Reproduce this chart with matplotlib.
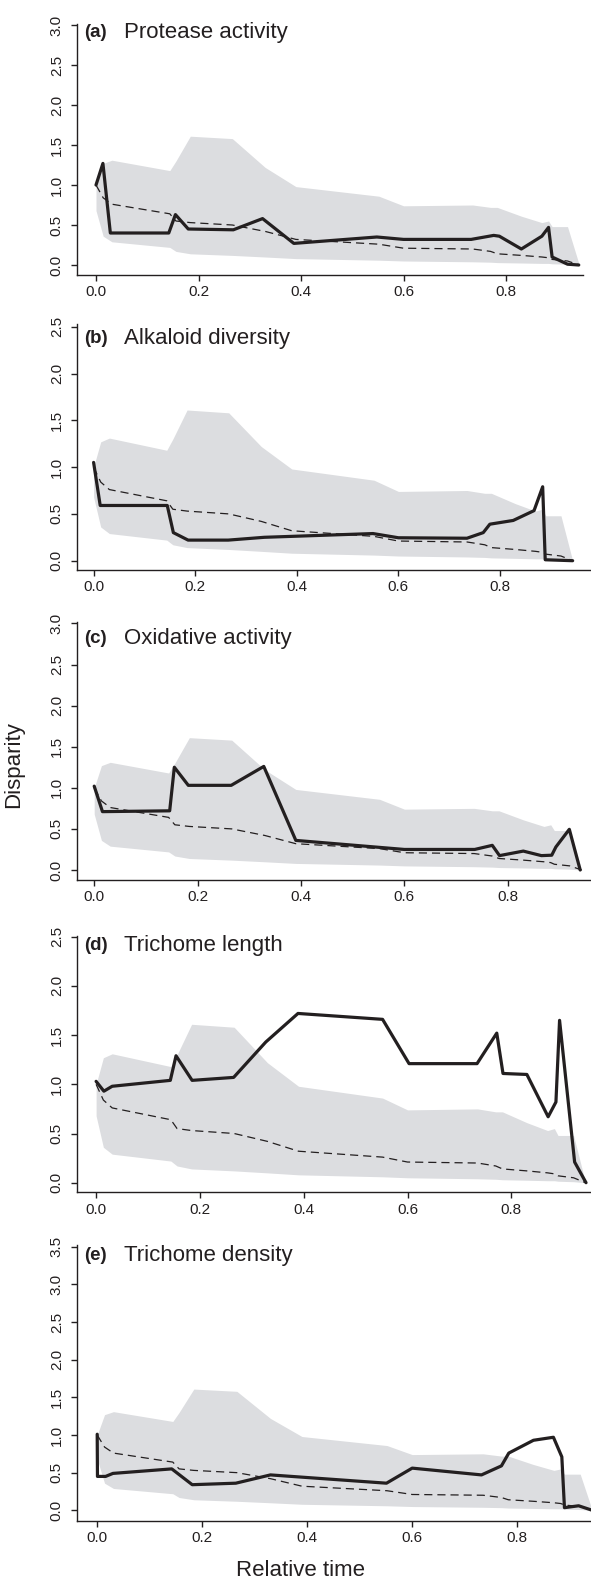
import numpy as np
import matplotlib
matplotlib.use('Agg')
import matplotlib.pyplot as plt

plt.rcParams['font.family'] = ['Liberation Sans', 'DejaVu Sans']

# null envelope + null mean (same tree for every trait)
t_null = [0, 0.014, 0.031, 0.144, 0.156, 0.184, 0.266, 0.33, 0.39, 0.552,
          0.6, 0.735, 0.77, 0.783, 0.83, 0.87, 0.883, 0.89, 0.92, 0.943]
null_upper = [1.0, 1.27, 1.31, 1.18, 1.30, 1.61, 1.58, 1.22, 0.98, 0.86,
              0.74, 0.75, 0.72, 0.72, 0.61, 0.53, 0.55, 0.48, 0.48, 0.0]
null_lower = [0.68, 0.36, 0.29, 0.22, 0.17, 0.14, 0.12, 0.10, 0.08, 0.06,
              0.05, 0.04, 0.035, 0.03, 0.025, 0.02, 0.02, 0.015, 0.01, 0.0]
null_mean = [1.0, 0.84, 0.76, 0.64, 0.55, 0.53, 0.50, 0.42, 0.32, 0.26,
             0.21, 0.20, 0.17, 0.14, 0.12, 0.10, 0.09, 0.07, 0.05, 0.0]

# observed disparity through time
a_x = [0, 0.0135, 0.028, 0.142, 0.155, 0.18, 0.268, 0.325, 0.386, 0.548,
       0.6, 0.732, 0.776, 0.787, 0.83, 0.87, 0.883, 0.89, 0.92, 0.942]
a_y = [1.0, 1.27, 0.40, 0.40, 0.63, 0.45, 0.44, 0.58, 0.27, 0.35,
       0.32, 0.32, 0.37, 0.36, 0.20, 0.36, 0.47, 0.10, 0.01, 0.0]

b_x = [0, 0.013, 0.145, 0.157, 0.186, 0.265, 0.336, 0.39, 0.55, 0.6,
       0.735, 0.767, 0.78, 0.826, 0.867, 0.884, 0.889, 0.943]
b_y = [1.05, 0.59, 0.59, 0.30, 0.22, 0.22, 0.25, 0.26, 0.29, 0.245,
       0.24, 0.30, 0.39, 0.43, 0.535, 0.79, 0.01, 0.0]

c_x = [0, 0.016, 0.146, 0.155, 0.182, 0.265, 0.328, 0.39, 0.6, 0.736,
       0.77, 0.784, 0.83, 0.865, 0.885, 0.893, 0.919, 0.94]
c_y = [1.02, 0.71, 0.72, 1.25, 1.03, 1.03, 1.26, 0.36, 0.25, 0.25,
       0.30, 0.175, 0.23, 0.175, 0.18, 0.28, 0.495, 0.0]

d_x = [0, 0.015, 0.031, 0.143, 0.154, 0.185, 0.265, 0.327, 0.389, 0.552,
       0.603, 0.734, 0.772, 0.784, 0.83, 0.871, 0.886, 0.893, 0.922, 0.944]
d_y = [1.03, 0.93, 0.98, 1.04, 1.29, 1.04, 1.07, 1.43, 1.72, 1.66,
       1.21, 1.21, 1.52, 1.11, 1.10, 0.67, 0.82, 1.65, 0.21, 0.0]

e_x = [0, 0.0005, 0.016, 0.03, 0.142, 0.181, 0.264, 0.33, 0.551, 0.6,
       0.732, 0.77, 0.784, 0.831, 0.869, 0.885, 0.89, 0.917, 0.943]
e_y = [1.01, 0.45, 0.45, 0.49, 0.55, 0.34, 0.36, 0.47, 0.36, 0.56,
       0.47, 0.59, 0.76, 0.93, 0.97, 0.71, 0.035, 0.06, 0.0]

letters = ['(a)', '(b)', '(c)', '(d)', '(e)']
names = ['Protease activity', 'Alkaloid diversity', 'Oxidative activity',
         'Trichome length', 'Trichome density']
ymax_tick = [3.0, 2.5, 3.0, 2.5, 3.5]

# panel geometry in pixels (figure is 591 x 1581)
W, H = 591.0, 1581.0
# top, bottom, right, zero-y pixel, px per unit y, zero-x pixel, px per unit x
geo = [
    (24, 275, 583, 265.0, 80.0, 96.0, 512.5),
    (324, 570, 591, 560.7, 93.6, 93.6, 508.0),
    (622, 880, 591, 870.0, 82.2, 94.2, 517.0),
    (936, 1192.3, 591, 1182.7, 98.4, 96.1, 519.0),
    (1245, 1520.7, 591, 1510.3, 75.3, 97.2, 525.0),
]
title_y = [32.3, 338.3, 638.3, 945, 1255]
left_px = 77.0

series = [(a_x, a_y), (b_x, b_y), (c_x, c_y), (d_x, d_y), (e_x, e_y)]
ink = '#231f20'

fig = plt.figure(figsize=(W / 100, H / 100), dpi=100)

for i in range(5):
    top, bot, right, y0, ky, x0, kx = geo[i]
    ax = fig.add_axes([left_px / W, 1 - bot / H, (right - left_px) / W, (bot - top) / H])
    ax.fill_between(t_null, null_lower, null_upper, color='#dcdde0', lw=0, zorder=1)
    ax.plot(t_null, null_mean, color=ink, lw=0.9, dashes=(6.5, 4), zorder=2)
    ax.plot(series[i][0], series[i][1], color=ink, lw=2.3,
            solid_joinstyle='round', solid_capstyle='round', zorder=3)

    ax.set_xlim((left_px - x0) / kx, (right - x0) / kx)
    ax.set_ylim(-(bot - y0) / ky, (y0 - top) / ky)
    ax.set_xticks([0, 0.2, 0.4, 0.6, 0.8])
    ax.set_xticklabels(['0.0', '0.2', '0.4', '0.6', '0.8'])
    yt = np.arange(0, ymax_tick[i] + 0.01, 0.5)
    ax.set_yticks(yt)
    ax.set_yticklabels(['%.1f' % v for v in yt])
    for lab in ax.get_yticklabels():
        lab.set_rotation(90)
        lab.set_va('center')

    for s in ['top', 'right']:
        ax.spines[s].set_visible(False)
    for s in ['left', 'bottom']:
        ax.spines[s].set_linewidth(1.0)
        ax.spines[s].set_color(ink)
    ax.tick_params(direction='out', length=4, width=1.0, color=ink,
                   labelsize=11, labelcolor=ink)
    ax.tick_params(axis='x', pad=3.5)
    ax.tick_params(axis='y', pad=5.5)
    ax.patch.set_alpha(0)

    fig.text(84 / W, 1 - title_y[i] / H, letters[i], fontsize=13.5,
             fontweight='bold', color=ink, va='center', ha='left')
    fig.text(124.5 / W, 1 - title_y[i] / H, names[i], fontsize=16,
             color=ink, va='center', ha='left')

fig.text(14 / W, 1 - 765 / H, 'Disparity', rotation=90, fontsize=16,
         color=ink, va='center', ha='center')
fig.text(300 / W, 1 - 1570 / H, 'Relative time', fontsize=16,
         color=ink, va='center', ha='center')

plt.savefig('out.png', dpi=100)
